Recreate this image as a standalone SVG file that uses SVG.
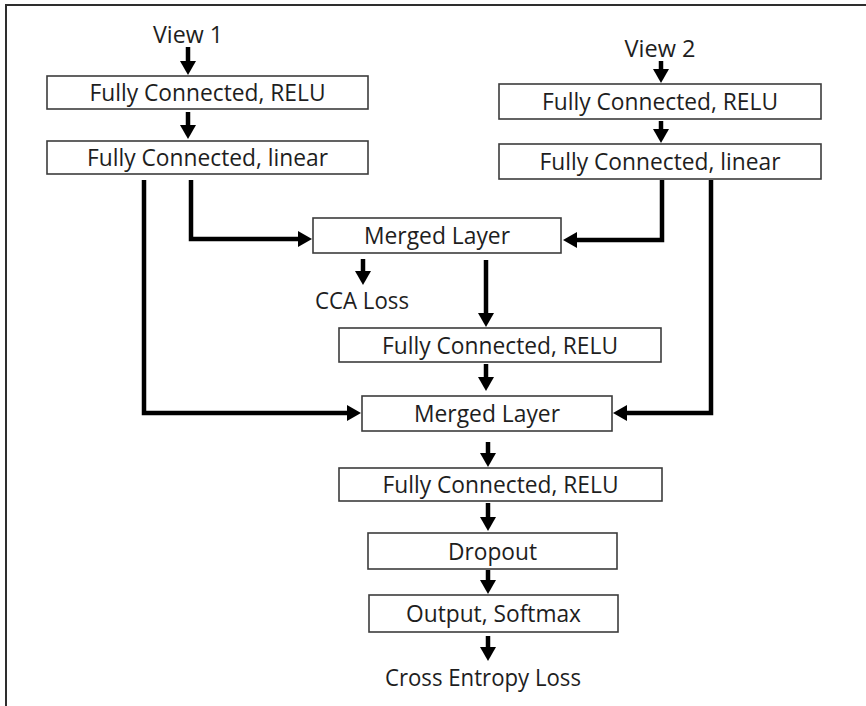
<svg xmlns="http://www.w3.org/2000/svg" width="866" height="706" viewBox="0 0 866 706">
  <style>
    .box { fill: #ffffff; stroke: #3c3c3c; stroke-width: 1.6; }
    .lbl { font-family: "Open Sans", Lato, "Liberation Sans", sans-serif; font-size: 24px; fill: #1e1e1e; text-anchor: middle; }
    .wire { fill: none; stroke: #000000; stroke-width: 4.5; stroke-linejoin: miter; }
    .frame { fill: none; stroke: #2e2e2e; stroke-width: 2; }
  </style>
  <defs>
    <marker id="head" markerUnits="userSpaceOnUse" markerWidth="14" markerHeight="16" refX="4" refY="8" orient="auto">
      <path d="M0,0 L14,8 L0,16 z" fill="#000000"/>
    </marker>
  </defs>

  <rect width="866" height="706" fill="#ffffff"/>
  <path class="frame" d="M6,706 V5 H866"/>

  <!-- inputs and losses -->
  <g id="view1"><text class="lbl" x="188" y="43" textLength="70" lengthAdjust="spacingAndGlyphs">View 1</text></g>
  <g id="view2"><text class="lbl" x="660" y="57" textLength="71" lengthAdjust="spacingAndGlyphs">View 2</text></g>
  <g id="cca-loss"><text class="lbl" x="362" y="309" textLength="94" lengthAdjust="spacingAndGlyphs">CCA Loss</text></g>
  <g id="ce-loss"><text class="lbl" x="483" y="686" textLength="196" lengthAdjust="spacingAndGlyphs">Cross Entropy Loss</text></g>

  <!-- view 1 branch -->
  <g id="v1-fc-relu">
    <rect class="box" x="47" y="76" width="321" height="33"/>
    <text class="lbl" x="207.5" y="101" textLength="236" lengthAdjust="spacingAndGlyphs">Fully Connected, RELU</text>
  </g>
  <g id="v1-fc-linear">
    <rect class="box" x="47" y="141" width="321" height="33"/>
    <text class="lbl" x="207.5" y="166" textLength="241" lengthAdjust="spacingAndGlyphs">Fully Connected, linear</text>
  </g>

  <!-- view 2 branch -->
  <g id="v2-fc-relu">
    <rect class="box" x="499" y="84" width="322" height="35"/>
    <text class="lbl" x="660" y="110" textLength="236" lengthAdjust="spacingAndGlyphs">Fully Connected, RELU</text>
  </g>
  <g id="v2-fc-linear">
    <rect class="box" x="499" y="144" width="322" height="35"/>
    <text class="lbl" x="660" y="170" textLength="241" lengthAdjust="spacingAndGlyphs">Fully Connected, linear</text>
  </g>

  <!-- shared layers -->
  <g id="merged-1">
    <rect class="box" x="313" y="218" width="248" height="35"/>
    <text class="lbl" x="437" y="244" textLength="146" lengthAdjust="spacingAndGlyphs">Merged Layer</text>
  </g>
  <g id="shared-fc-relu">
    <rect class="box" x="339" y="328" width="322" height="34"/>
    <text class="lbl" x="500" y="353.5" textLength="236" lengthAdjust="spacingAndGlyphs">Fully Connected, RELU</text>
  </g>
  <g id="merged-2">
    <rect class="box" x="362" y="396" width="250" height="35"/>
    <text class="lbl" x="487" y="422" textLength="146" lengthAdjust="spacingAndGlyphs">Merged Layer</text>
  </g>
  <g id="top-fc-relu">
    <rect class="box" x="339" y="468" width="323" height="33"/>
    <text class="lbl" x="500.5" y="493" textLength="236" lengthAdjust="spacingAndGlyphs">Fully Connected, RELU</text>
  </g>
  <g id="dropout">
    <rect class="box" x="368" y="533" width="249" height="36"/>
    <text class="lbl" x="492.5" y="559.5" textLength="89" lengthAdjust="spacingAndGlyphs">Dropout</text>
  </g>
  <g id="output-softmax">
    <rect class="box" x="369" y="595" width="249" height="37"/>
    <text class="lbl" x="493.5" y="622" textLength="175" lengthAdjust="spacingAndGlyphs">Output, Softmax</text>
  </g>

  <g id="connectors">
    <path class="wire" marker-end="url(#head)" d="M188,47 V65"/>
    <path class="wire" marker-end="url(#head)" d="M188,112 V129"/>
    <path class="wire" marker-end="url(#head)" d="M661,61 V73"/>
    <path class="wire" marker-end="url(#head)" d="M661,121 V133"/>
    <path class="wire" marker-end="url(#head)" d="M191,180 V239 H302"/>
    <path class="wire" marker-end="url(#head)" d="M662,180 V240 H573"/>
    <path class="wire" marker-end="url(#head)" d="M144,180 V413 H351"/>
    <path class="wire" marker-end="url(#head)" d="M711,180 V413 H623"/>
    <path class="wire" marker-end="url(#head)" d="M363,259 V275"/>
    <path class="wire" marker-end="url(#head)" d="M486,260 V317"/>
    <path class="wire" marker-end="url(#head)" d="M486,364 V381"/>
    <path class="wire" marker-end="url(#head)" d="M488,442 V457"/>
    <path class="wire" marker-end="url(#head)" d="M488,503 V521"/>
    <path class="wire" marker-end="url(#head)" d="M488,570 V584"/>
    <path class="wire" marker-end="url(#head)" d="M488,636 V651"/>
  </g>
</svg>
